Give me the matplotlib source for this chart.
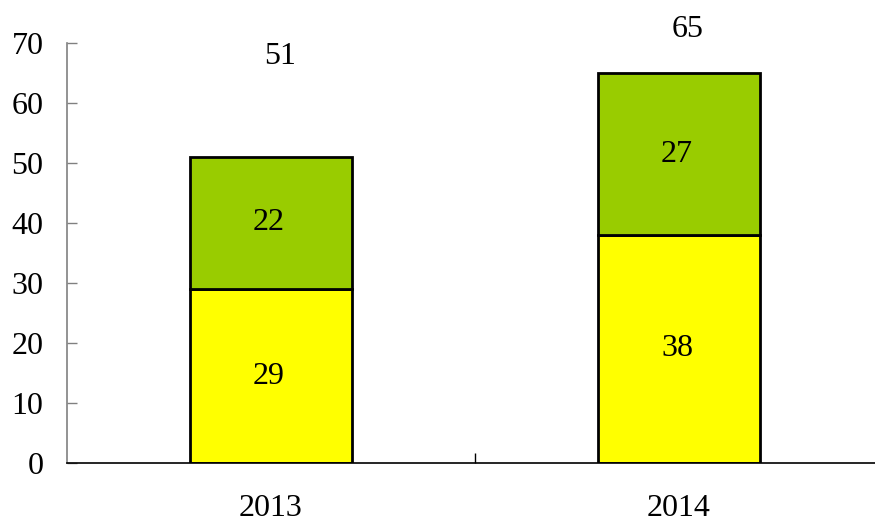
import matplotlib
matplotlib.use("Agg")
import matplotlib.pyplot as plt
import numpy as np

years = ['2013', '2014']
bottom_vals = [29, 38]
top_vals = [22, 27]
totals = [51, 65]
total_label_offset = [16.8, 7.2]   # label heights above bar top (as in reference)

plt.rcParams['font.family'] = ['Liberation Serif', 'DejaVu Serif']
fs = 23

fig = plt.figure(figsize=(8.75, 5.27), dpi=100)
ax = fig.add_axes([67/875, 64/527, 816/875, 420/527])

x = np.arange(len(years))
w = 0.397
ax.bar(x, bottom_vals, w, color='#FFFF00', edgecolor='black', linewidth=2)
ax.bar(x, top_vals, w, bottom=bottom_vals, color='#99CC00', edgecolor='black', linewidth=2)

for i in range(len(years)):
    ax.text(x[i] - 0.005, bottom_vals[i] / 2, str(bottom_vals[i]), ha='center', va='center', fontsize=fs)
    ax.text(x[i] - 0.005, bottom_vals[i] + top_vals[i] / 2, str(top_vals[i]), ha='center', va='center', fontsize=fs)
    ax.text(x[i] + 0.022, totals[i] + total_label_offset[i], str(totals[i]), ha='center', va='center',
            fontsize=fs)

ax.set_xlim(-0.5, 1.5)
ax.set_ylim(0, 70)
ax.set_yticks(range(0, 71, 10))
ax.set_xticks(x)
ax.set_xticklabels(years)
ax.set_xticks([0.5], minor=True)

ax.tick_params(axis='y', direction='in', length=7.5, width=1, color='#808080', pad=17, labelsize=fs)
ax.tick_params(axis='x', which='major', length=0, pad=22, labelsize=fs)
ax.tick_params(axis='x', which='minor', direction='in', length=7.5, width=1, color='black')

ax.spines['top'].set_visible(False)
ax.spines['right'].set_visible(False)
ax.spines['left'].set_color('#808080')
ax.spines['left'].set_linewidth(1.2)
ax.spines['bottom'].set_linewidth(1.2)

fig.savefig('out.png', dpi=100)
